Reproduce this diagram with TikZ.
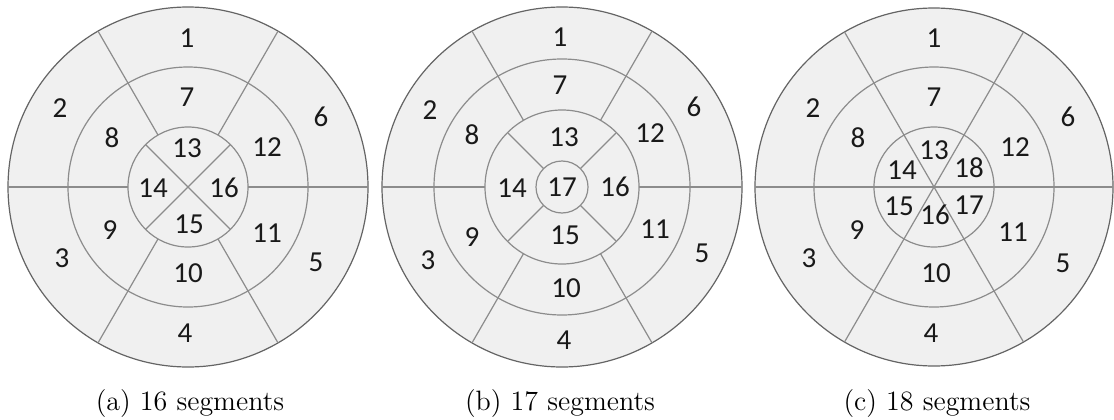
\documentclass[tikz,border=0pt]{standalone}
\usepackage{fontspec}
\newfontfamily\segfont{Carlito}
\usepackage{tikz}
\usetikzlibrary{calc}
\definecolor{segfill}{RGB}{240,240,240}
\definecolor{segline}{RGB}{140,140,140}
\definecolor{rimline}{RGB}{100,100,100}
\tikzset{
  rim/.style={draw=rimline, fill=segfill, line width=0.6pt},
  ring/.style={draw=segline, line width=0.6pt},
  spoke/.style={draw=segline, line width=0.6pt},
  seglabel/.style={font=\segfont\fontsize{14.5}{17}\selectfont, inner sep=0pt, text=black!90},
  subcap/.style={font=\fontsize{14}{17}\selectfont, anchor=base, inner sep=0pt},
}

\begin{document}
\begin{tikzpicture}[x=0.5pt, y=0.5pt]
  \useasboundingbox (0,0) rectangle (1114,419);
  % (a) 16 segments
  \begin{scope}[shift={(188,232)}]
    \draw[rim] (0,0) circle[radius=180];
    \draw[ring] (0,0) circle[radius=120];
    \draw[ring] (0,0) circle[radius=60];
    \foreach \a in {0,60,...,300} \draw[spoke] (\a:60) -- (\a:180);
    \foreach \a in {45,135,225,315} \draw[spoke] (0,0) -- (\a:60);
    \foreach \n/\x/\y in {1/-1/149, 2/-128/79, 3/-126/-71, 4/-3/-146, 5/128/-75, 6/133/70,
        7/-1/90, 8/-76/49, 9/-78/-43, 10/0/-86, 11/79/-46, 12/79/40,
        13/-1/39, 14/-35/-1, 15/1/-37, 16/36/-1}
      \node[seglabel] (a\n) at (\x,\y) {\n};
  \end{scope}
  % (b) 17 segments
  \begin{scope}[shift={(562,232)}]
    \draw[rim] (0,0) circle[radius=180];
    \draw[ring] (0,0) circle[radius=128];
    \draw[ring] (0,0) circle[radius=77];
    \draw[ring] (0,0) circle[radius=26];
    \foreach \a in {0,60,...,300} \draw[spoke] (\a:77) -- (\a:180);
    \foreach \a in {45,135,225,315} \draw[spoke] (\a:26) -- (\a:77);
    \foreach \n/\x/\y in {1/-2/150, 2/-132/77, 3/-134/-73, 4/2/-153, 5/140/-66, 6/132/80,
        7/-2/102, 8/-90/52, 9/-90/-50, 10/4/-101, 11/93/-42, 12/88/54,
        13/2/50, 14/-50/-1, 15/3/-48, 16/53/0, 17/0/0}
      \node[seglabel] (b\n) at (\x,\y) {\n};
  \end{scope}
  % (c) 18 segments
  \begin{scope}[shift={(934,232)}]
    \draw[rim] (0,0) circle[radius=179];
    \draw[ring] (0,0) circle[radius=120];
    \draw[ring] (0,0) circle[radius=60];
    \foreach \a in {0,60,...,300} \draw[spoke] (0,0) -- (\a:179);
    \foreach \n/\x/\y in {1/0/149, 2/-121/79, 3/-125/-71, 4/-3/-146, 5/129/-76, 6/134/70,
        7/0/90, 8/-76/49, 9/-77/-43, 10/2/-86, 11/79/-45, 12/81/40,
        13/0/37, 14/-32/17, 15/-35/-19, 16/1/-28, 17/35/-18, 18/35/19}
      \node[seglabel] (c\n) at (\x,\y) {\n};
  \end{scope}
  % captions
  \node[subcap] (capa) at (190,9) {(a) 16 segments};
  \node[subcap] (capb) at (560,9) {(b) 17 segments};
  \node[subcap] (capc) at (937,9) {(c) 18 segments};
\end{tikzpicture}
\end{document}
